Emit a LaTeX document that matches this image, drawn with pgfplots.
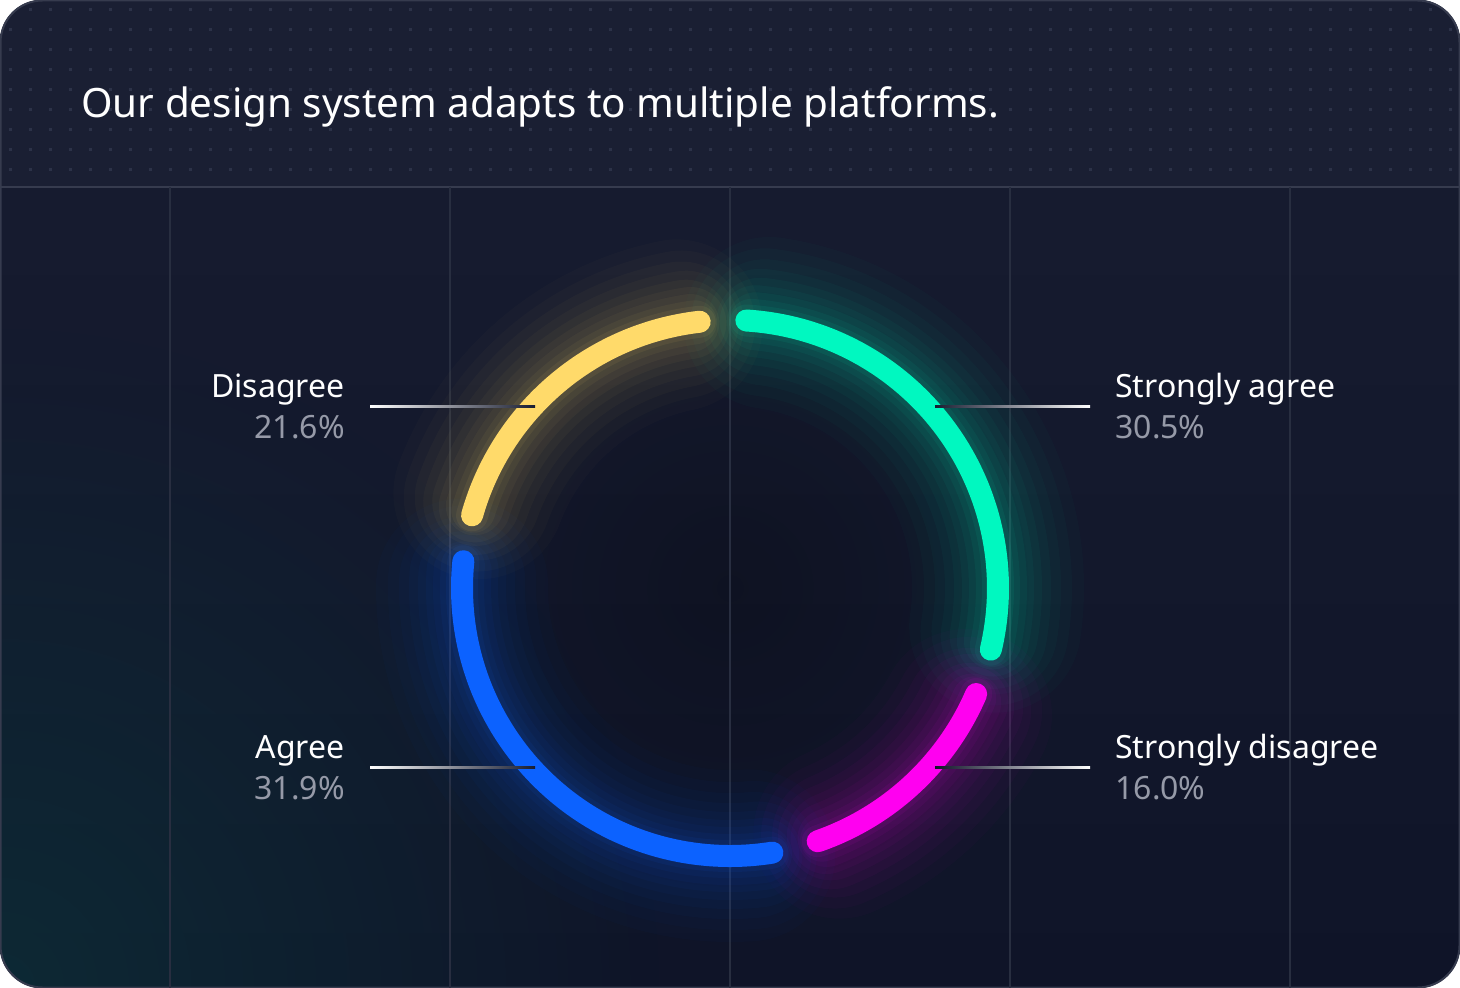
\documentclass[border=0pt]{standalone}
\usepackage{pgfplots}
\pgfplotsset{compat=1.18}
\usepackage{fontspec}
\setmainfont{Noto Sans}
\usetikzlibrary{fadings}

\definecolor{bodytop}{RGB}{24,29,49}
\definecolor{bodybot}{RGB}{15,20,40}
\definecolor{headc}{RGB}{26,31,51}
\definecolor{dotc}{RGB}{44,50,72}
\definecolor{linec}{RGB}{54,59,78}
\definecolor{gridc}{RGB}{40,46,64}
\definecolor{tealc}{RGB}{12,50,58}
\definecolor{pctc}{RGB}{150,154,168}
\definecolor{cgreen}{RGB}{0,248,192}
\definecolor{cmag}{RGB}{255,0,240}
\definecolor{cblue}{RGB}{12,98,255}
\definecolor{cyel}{RGB}{255,218,106}

\tikzfading[name=softfade, inner color=transparent!0, outer color=transparent!100]

% arc of one share (cumulative percent #2 to #3), trimmed by #4 degrees at each end
\newcommand{\segdraw}[4]{%
  \draw[#1, line cap=round] (axis cs:730,588) ++({91.5-3.6*(#2)-#4}:134pt)
    arc[start angle={91.5-3.6*(#2)-#4}, end angle={91.5-3.6*(#3)+#4}, radius=134pt];}
\newcommand{\glow}[3]{%
  \segdraw{#1, line width=86pt, opacity=0.02}{#2}{#3}{10}
  \segdraw{#1, line width=74pt, opacity=0.024}{#2}{#3}{9}
  \segdraw{#1, line width=63pt, opacity=0.027}{#2}{#3}{9}
  \segdraw{#1, line width=53pt, opacity=0.03}{#2}{#3}{8}
  \segdraw{#1, line width=44pt, opacity=0.034}{#2}{#3}{8}
  \segdraw{#1, line width=36pt, opacity=0.038}{#2}{#3}{7}
  \segdraw{#1, line width=29pt, opacity=0.042}{#2}{#3}{7}
  \segdraw{#1, line width=22pt, opacity=0.05}{#2}{#3}{6}
  \segdraw{#1, line width=16pt, opacity=0.065}{#2}{#3}{5}}

\begin{document}
\begin{tikzpicture}[x=0.5pt,y=-0.5pt]
\fill[white] (0,0) rectangle (1460,988);
\begin{scope}
  \clip[rounded corners=21pt] (0,0) rectangle (1460,988);
  \shade[top color=bodytop, bottom color=bodybot] (0,0) rectangle (1460,988);
  \fill[tealc, opacity=0.7, path fading=softfade] (0,988) circle[radius=330pt];
  \fill[black, opacity=0.22, path fading=softfade] (730,588) circle[radius=150pt];
  \fill[headc] (0,0) rectangle (1460,187);
  \foreach \i in {0,...,72}
    \foreach \j in {0,...,8}
      \fill[dotc] ({8.5+20*\i},{8.5+20*\j}) rectangle ++(3,3);
  \draw[linec, line width=1pt] (0,187) -- (1460,187);
\end{scope}
\draw[linec, line width=1pt, rounded corners=21pt] (0.5,0.5) rectangle (1459.5,987.5);

\begin{axis}[
  at={(0,988)}, anchor=south west,
  x=0.5pt, y=0.5pt, y dir=reverse,
  xmin=0, xmax=1460, ymin=187, ymax=988,
  enlargelimits=false, clip=false,
  axis line style={draw=none},
  xtick={170,450,730,1010,1290}, xticklabels={}, ytick=\empty,
  major tick length=0pt,
  xmajorgrids, grid style={gridc, line width=0.75pt}]
  % Strongly agree 30.5, Strongly disagree 16.0, Agree 31.9, Disagree 21.6
  \glow{cgreen}{0}{30.5}
  \glow{cmag}{30.5}{46.5}
  \glow{cblue}{46.5}{78.4}
  \glow{cyel}{78.4}{100}
  \segdraw{cgreen, line width=11pt}{0}{30.5}{5}
  \segdraw{cmag, line width=11pt}{30.5}{46.5}{5}
  \segdraw{cblue, line width=11pt}{46.5}{78.4}{5}
  \segdraw{cyel, line width=11pt}{78.4}{100}{5}
\end{axis}

\node[anchor=base west, text=white, font=\fontsize{20.2pt}{24pt}\selectfont, inner sep=0pt]
  at (81,118) {Our design system adapts to multiple platforms.};

\shade[left color=white, right color=bodytop] (370,406) rectangle (535,408);
\shade[left color=bodytop, right color=white] (935,406) rectangle (1090,408);
\shade[left color=white, right color=bodytop] (370,766) rectangle (535,768);
\shade[left color=bodybot, right color=white] (935,766) rectangle (1090,768);

\begin{scope}[every node/.style={inner sep=0pt, font=\fontsize{16pt}{19pt}\selectfont}]
  \node[anchor=base east, text=white] at (345,398) {Disagree};
  \node[anchor=base east, text=pctc] at (345,439) {21.6\%};
  \node[anchor=base east, text=white] at (345,758) {Agree};
  \node[anchor=base east, text=pctc] at (345,799) {31.9\%};
  \node[anchor=base west, text=white] at (1115,398) {Strongly agree};
  \node[anchor=base west, text=pctc] at (1115,439) {30.5\%};
  \node[anchor=base west, text=white] at (1115,758) {Strongly disagree};
  \node[anchor=base west, text=pctc] at (1115,799) {16.0\%};
\end{scope}
\pgfresetboundingbox
\useasboundingbox (0,0) rectangle (1460,988);
\end{tikzpicture}
\end{document}
